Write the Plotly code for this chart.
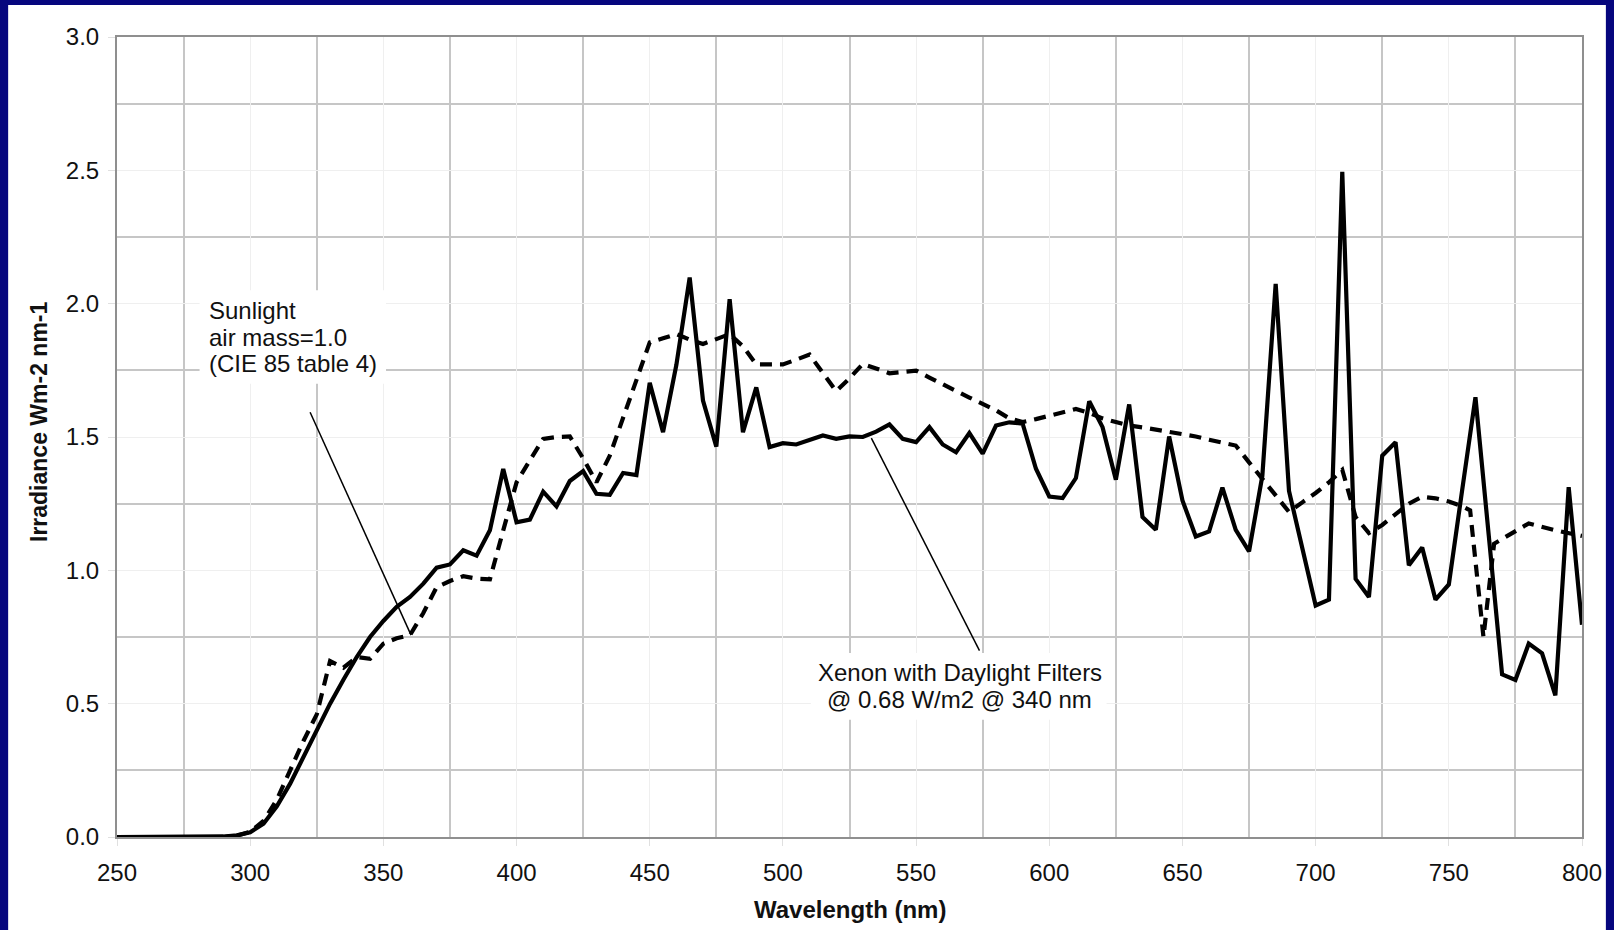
import plotly.graph_objects as go

# ---------------- data ----------------
xenon_wl = [250, 255, 260, 265, 270, 275, 280, 285, 290, 295, 300, 305, 310, 315, 320, 325,
            330, 335, 340, 345, 350, 355, 360, 365, 370, 375, 380, 385, 390, 395, 400, 405,
            410, 415, 420, 425, 430, 435, 440, 445, 450, 455, 460, 465, 470, 475, 480, 485,
            490, 495, 500, 505, 510, 515, 520, 525, 530, 535, 540, 545, 550, 555, 560, 565,
            570, 575, 580, 585, 590, 595, 600, 605, 610, 615, 620, 625, 630, 635, 640, 645,
            650, 655, 660, 665, 670, 675, 680, 685, 690, 695, 700, 705, 710, 715, 720, 725,
            730, 735, 740, 745, 750, 755, 760, 765, 770, 775, 780, 785, 790, 795, 800]
xenon_irr = [0, 0, 0, 0, 0, 0, 0, 0.001, 0.002, 0.006, 0.018, 0.05, 0.115, 0.2, 0.3, 0.4,
             0.5, 0.59, 0.675, 0.75, 0.81, 0.863, 0.9, 0.95, 1.01, 1.022, 1.075, 1.055, 1.15, 1.38, 1.18, 1.19,
             1.295, 1.24, 1.335, 1.372, 1.287, 1.283, 1.365, 1.357, 1.703, 1.518, 1.77, 2.098, 1.637, 1.464, 2.017, 1.518,
             1.686, 1.462, 1.477, 1.472, 1.489, 1.506, 1.493, 1.502, 1.5, 1.52, 1.547, 1.493, 1.481, 1.537, 1.472, 1.443,
             1.515, 1.438, 1.543, 1.555, 1.55, 1.381, 1.277, 1.271, 1.346, 1.634, 1.537, 1.34, 1.622, 1.2, 1.152, 1.502,
             1.262, 1.127, 1.146, 1.31, 1.152, 1.071, 1.355, 2.074, 1.298, 1.08, 0.868, 0.89, 2.494, 0.968, 0.9, 1.43,
             1.48, 1.019, 1.086, 0.89, 0.947, 1.3, 1.649, 1.13, 0.61, 0.589, 0.725, 0.689, 0.531, 1.312, 0.796]

sun_wl = [250, 255, 260, 265, 270, 275, 280, 285, 290, 295, 300, 305, 310, 315, 320, 325,
          330, 335, 340, 345, 350, 355, 360, 365, 370, 375, 380, 385, 390, 395, 400, 405,
          410, 415, 420, 425, 430, 435, 440, 445, 450, 455, 460, 465, 470, 475, 480, 485,
          490, 495, 500, 505, 510, 515, 520, 525, 530, 535, 540, 545, 550, 555, 560, 565,
          570, 575, 580, 585, 590, 595, 600, 605, 610, 615, 620, 625, 630, 635, 640, 645,
          650, 655, 660, 665, 670, 675, 680, 685, 690, 695, 700, 705, 710, 715, 720, 725,
          730, 735, 740, 745, 750, 755, 758, 763, 767, 780, 790, 800]
sun_irr = [0, 0, 0, 0, 0, 0, 0, 0, 0, 0.005, 0.02, 0.06, 0.14, 0.25, 0.36, 0.46,
           0.66, 0.635, 0.675, 0.668, 0.725, 0.745, 0.757, 0.84, 0.937, 0.96, 0.978, 0.969, 0.966, 1.15, 1.33, 1.412,
           1.493, 1.5, 1.502, 1.42, 1.33, 1.43, 1.574, 1.712, 1.855, 1.87, 1.886, 1.865, 1.849, 1.867, 1.886, 1.84,
           1.772, 1.772, 1.772, 1.79, 1.809, 1.74, 1.672, 1.72, 1.774, 1.757, 1.739, 1.744, 1.749, 1.723, 1.7, 1.673,
           1.648, 1.624, 1.6, 1.57, 1.556, 1.567, 1.58, 1.593, 1.605, 1.59, 1.57, 1.556, 1.543, 1.536, 1.528, 1.52,
           1.513, 1.502, 1.49, 1.48, 1.468, 1.405, 1.341, 1.28, 1.219, 1.255, 1.29, 1.33, 1.377, 1.2, 1.14, 1.17,
           1.21, 1.25, 1.276, 1.27, 1.258, 1.24, 1.225, 0.75, 1.1, 1.176, 1.15, 1.129]

x_ticks = [250, 300, 350, 400, 450, 500, 550, 600, 650, 700, 750, 800]
y_ticks = [0.0, 0.5, 1.0, 1.5, 2.0, 2.5, 3.0]
y_tick_text = ["0.0", "0.5", "1.0", "1.5", "2.0", "2.5", "3.0"]

x_title = "Wavelength (nm)"
y_title = "Irradiance Wm-2 nm-1"
sun_lines = ["Sunlight", "air mass=1.0", "(CIE 85 table 4)"]
xenon_lines = ["Xenon with Daylight Filters", "@ 0.68 W/m2 @ 340 nm"]

FONT = "Liberation Sans, Arial, sans-serif"
BORDER = "#06067e"
TXT = "#111111"

fig = go.Figure()
fig.add_trace(go.Scatter(x=sun_wl, y=sun_irr, mode="lines", name="Sunlight",
                         line=dict(color="black", width=4.2, dash="12px,8px")))
fig.add_trace(go.Scatter(x=xenon_wl, y=xenon_irr, mode="lines", name="Xenon",
                         line=dict(color="black", width=4.2)))

# white page inside the blue frame
fig.add_shape(type="rect", xref="paper", yref="paper",
              x0=-0.0743, x1=1.0163, y0=-0.2, y1=1.04,
              fillcolor="white", line=dict(width=0), layer="below")

# white boxes behind the label texts (hide the gridlines)
fig.add_shape(type="rect", xref="x", yref="y", x0=281, x1=351, y0=1.70, y1=2.05,
              fillcolor="white", line=dict(width=0), layer="between")
fig.add_shape(type="rect", xref="x", yref="y", x0=510.5, x1=621.5, y0=0.44, y1=0.69,
              fillcolor="white", line=dict(width=0), layer="between")

# pointer lines
fig.add_shape(type="line", xref="x", yref="y", x0=322.5, y0=1.593, x1=360.4, y1=0.757,
              line=dict(color="black", width=1.5))
fig.add_shape(type="line", xref="x", yref="y", x0=533.2, y0=1.496, x1=573.8, y1=0.699,
              line=dict(color="black", width=1.5))

# text labels, one annotation per line
for txt, yv in zip(sun_lines, [1.9745, 1.874, 1.774]):
    fig.add_annotation(x=284.5, y=yv, xref="x", yref="y", text=txt, showarrow=False,
                       xanchor="left", yanchor="middle", align="left",
                       borderpad=0, xshift=-1, font=dict(family=FONT, size=24, color=TXT))
for txt, yv in zip(xenon_lines, [0.617, 0.517]):
    fig.add_annotation(x=566.4, y=yv, xref="x", yref="y", text=txt, showarrow=False,
                       xanchor="center", yanchor="middle", align="center",
                       borderpad=0, font=dict(family=FONT, size=24, color=TXT))

fig.add_annotation(x=0.5, y=-0.091, xref="paper", yref="paper", text="<b>" + x_title + "</b>",
                   showarrow=False, xanchor="center", yanchor="middle",
                   font=dict(family=FONT, size=24, color=TXT))
fig.add_annotation(x=-0.0531, y=0.519, xref="paper", yref="paper", text="<b>" + y_title + "</b>",
                   showarrow=False, xanchor="center", yanchor="middle", textangle=-90,
                   font=dict(family=FONT, size=23, color=TXT))

fig.update_layout(
    width=1614, height=930,
    margin=dict(l=117, r=29, t=37, b=93),
    paper_bgcolor=BORDER, plot_bgcolor="white",
    showlegend=False,
    font=dict(family=FONT, size=24, color=TXT),
)
fig.update_xaxes(range=[250, 800], tickvals=x_ticks, ticktext=[str(v) for v in x_ticks],
                 showgrid=True, gridcolor="#efefef", gridwidth=1,
                 minor=dict(tick0=275, dtick=50, showgrid=True, gridcolor="#c6c6c6", gridwidth=2),
                 showline=True, mirror=True, linecolor="#8f8f8f", linewidth=2,
                 ticks="outside", ticklen=7, tickcolor="#e0e0e0", tickwidth=1,
                 ticklabelstandoff=6, zeroline=False,
                 tickfont=dict(family=FONT, size=24, color=TXT))
fig.update_yaxes(range=[0, 3], tickvals=y_ticks, ticktext=y_tick_text,
                 showgrid=True, gridcolor="#efefef", gridwidth=1,
                 minor=dict(tick0=0.25, dtick=0.5, showgrid=True, gridcolor="#c6c6c6", gridwidth=2),
                 showline=True, mirror=True, linecolor="#8f8f8f", linewidth=2,
                 ticks="outside", ticklen=7, tickcolor="#e0e0e0", tickwidth=1,
                 ticklabelstandoff=4, zeroline=False,
                 tickfont=dict(family=FONT, size=24, color=TXT))

fig.write_html("out.html", config={"displayModeBar": False},
               post_script="document.body.style.margin='0px';document.body.style.overflow='hidden';")
